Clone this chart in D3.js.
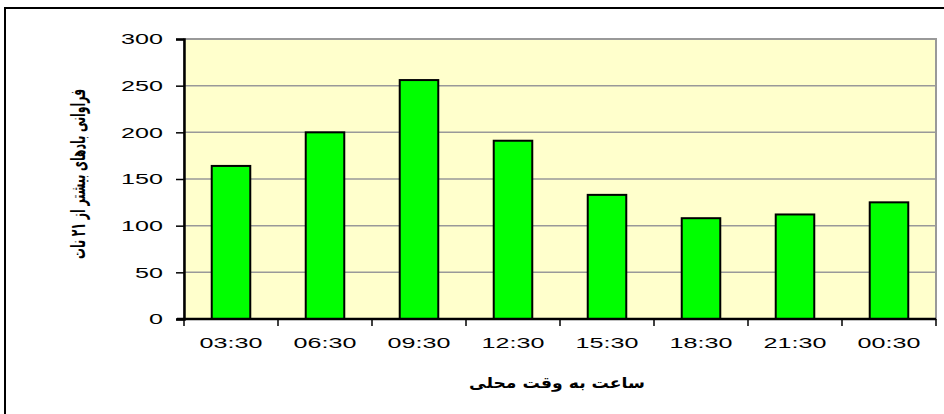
<!DOCTYPE html>
<html>
<head>
<meta charset="utf-8">
<script src="https://cdn.jsdelivr.net/npm/d3@7"></script>
<style>
  body { margin: 0; background: #fff; }
  svg { display: block; }
</style>
</head>
<body>
<svg id="chart" width="944" height="414"></svg>
<script>
// chart data
const hours = ["03:30", "06:30", "09:30", "12:30", "15:30", "18:30", "21:30", "00:30"];
const counts = [164, 200, 256, 191, 133, 108, 112, 125];
const yTicks = [0, 50, 100, 150, 200, 250, 300];
const yTitle = "فراوانی بادهای بیشتر از ۲۱ نات";
const xTitle = "ساعت به وقت محلی";

const svg = d3.select("#chart");
const margin = {top: 39, left: 184, right: 8, bottom: 95};
const width = 944 - margin.left - margin.right,
      height = 414 - margin.top - margin.bottom;
const stretch = 1.62; // the original text is drawn wider than normal

// outer frame (runs off the right and bottom edges)
svg.append("rect")
  .attr("x", 5).attr("y", 8)
  .attr("width", 960).attr("height", 420)
  .attr("fill", "none")
  .attr("stroke", "#000")
  .attr("stroke-width", 2);

const g = svg.append("g")
  .attr("transform", `translate(${margin.left},${margin.top})`);

const x = d3.scaleBand()
  .domain(hours)
  .range([0, width])
  .paddingInner(0.59)
  .paddingOuter(0.295);

const xb = d3.scaleBand().domain(hours).range([0, width]); // for tick positions

const y = d3.scaleLinear()
  .domain([0, 300])
  .range([height, 0]);

// plot background
g.append("rect")
  .attr("width", width).attr("height", height)
  .attr("fill", "#FFFFCC")
  .attr("stroke", "#999")
  .attr("stroke-width", 2);

// gridlines
g.selectAll(".grid")
  .data(yTicks.filter(d => d > 0 && d < 300))
  .enter().append("line")
  .attr("x1", 0).attr("x2", width)
  .attr("y1", d => y(d)).attr("y2", d => y(d))
  .attr("stroke", "#999")
  .attr("stroke-width", 1.5);

// bars
g.selectAll(".bar")
  .data(counts)
  .enter().append("rect")
  .attr("x", (d, i) => x(hours[i]))
  .attr("y", d => y(d))
  .attr("width", x.bandwidth())
  .attr("height", d => height - y(d))
  .attr("fill", "#00FF00")
  .attr("stroke", "#000")
  .attr("stroke-width", 2);

// y axis
const yAxis = g.append("g")
  .call(d3.axisLeft(y).tickValues(yTicks).tickSize(8).tickFormat(""));
yAxis.select(".domain").attr("stroke", "#000").attr("stroke-width", 2.5);
yAxis.selectAll(".tick line").attr("stroke", "#000").attr("stroke-width", 1.5);
g.selectAll(".ylab")
  .data(yTicks)
  .enter().append("text")
  .attr("transform", d => `translate(-21,${y(d)}) scale(${stretch},1)`)
  .attr("dy", "0.35em")
  .attr("text-anchor", "end")
  .attr("font-family", "Liberation Sans, Arial, sans-serif")
  .attr("font-size", "15.5px")
  .text(d => d);

// x axis
const xAxis = g.append("g")
  .attr("transform", `translate(0,${height})`);
xAxis.append("line")
  .attr("x1", -7).attr("x2", width)
  .attr("stroke", "#000").attr("stroke-width", 2.5);
xAxis.selectAll(".xt")
  .data(hours.concat(["end"]))
  .enter().append("line")
  .attr("x1", (d, i) => i < hours.length ? xb(d) : width)
  .attr("x2", (d, i) => i < hours.length ? xb(d) : width)
  .attr("y1", 0).attr("y2", 7)
  .attr("stroke", "#000").attr("stroke-width", 1.5);
xAxis.selectAll(".xl")
  .data(hours)
  .enter().append("text")
  .attr("transform", d => `translate(${xb(d) + xb.bandwidth() / 2},29) scale(${stretch},1)`)
  .attr("text-anchor", "middle")
  .attr("font-family", "Liberation Sans, Arial, sans-serif")
  .attr("font-size", "15.5px")
  .text(d => d);

// axis titles
svg.append("text")
  .attr("x", 557).attr("y", 388)
  .attr("text-anchor", "middle")
  .attr("direction", "rtl")
  .attr("font-family", "DejaVu Sans, sans-serif")
  .attr("font-weight", "bold")
  .attr("font-size", "15px")
  .attr("textLength", 176)
  .attr("lengthAdjust", "spacingAndGlyphs")
  .text(xTitle);

svg.append("text")
  .attr("transform", "translate(85,174) scale(1.7,1) rotate(-90)")
  .attr("text-anchor", "middle")
  .attr("direction", "rtl")
  .attr("font-family", "DejaVu Sans, sans-serif")
  .attr("font-weight", "bold")
  .attr("font-size", "12px")
  .attr("textLength", 170)
  .attr("lengthAdjust", "spacingAndGlyphs")
  .text(yTitle);
</script>
</body>
</html>
